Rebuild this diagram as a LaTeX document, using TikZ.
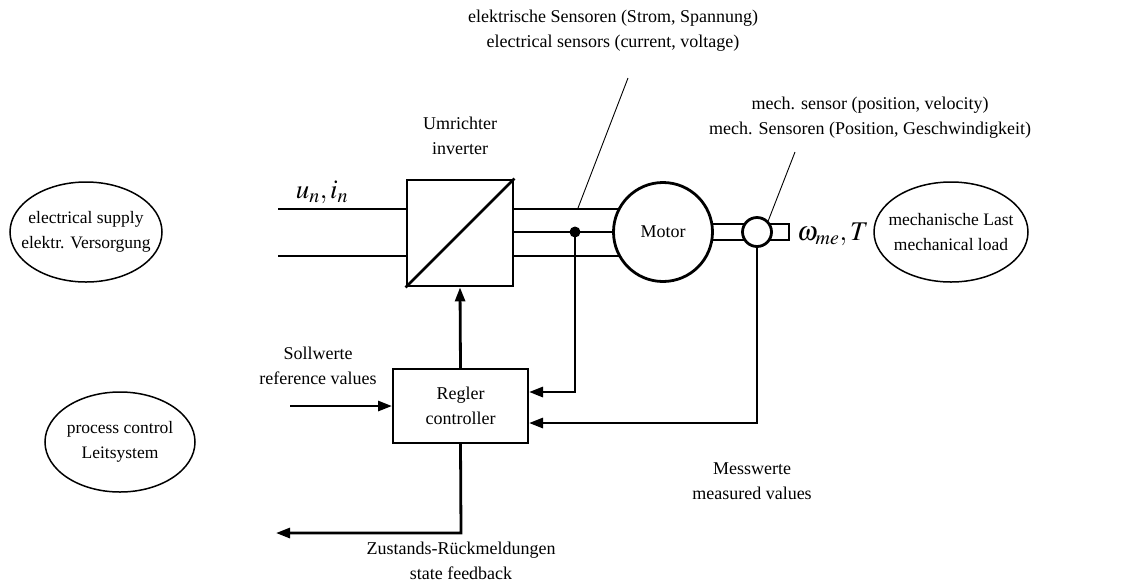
\documentclass[tikz,border=0pt]{standalone}
\usepackage{mathptmx}
\usepackage{fontspec}
\setmainfont{Liberation Serif}
\usetikzlibrary{arrows.meta,shapes.geometric,backgrounds}
\begin{document}
\begin{tikzpicture}[x=1pt,y=-1pt,
  txt/.style={font=\fontsize{18}{25}\selectfont, align=center, inner sep=0pt},
  thick line/.style={line width=2.8pt},
  thin line/.style={line width=0.9pt},
  arr/.style={thick line, -{Triangle[length=14pt,width=10pt]}},
  elltext/.style={font=\fontsize{17.5}{25}\selectfont, align=center, inner sep=0pt},
  ellline/.style={line width=1.5pt},
  bigmath/.style={inner sep=0pt, font=\fontsize{27}{30}\selectfont},
]
\useasboundingbox (0,0) rectangle (1134,582);

% nodes
\node[draw, thick line, minimum width=106pt, minimum height=106pt, inner sep=0pt] (inv) at (460,233) {};
\draw[thick line] (inv.south west) -- (inv.north east);
\node[circle, draw, thick line, fill=white, minimum size=99pt, inner sep=0pt, txt] (motor) at (663,232) {Motor};
\node[circle, draw, thick line, fill=white, minimum size=29pt, inner sep=0pt] (sens) at (757,232) {};
\node[draw, line width=2pt, minimum width=135pt, minimum height=74pt, txt] (ctrl) at (460.5,406) {Regler\\controller};

\node[elltext] (supply) at (86,232) {electrical supply\\elektr. Versorgung};
\draw[ellline] (supply.center) ellipse (76pt and 50pt);
\node[elltext] (load) at (951,232) {mechanische Last\\mechanical load};
\draw[ellline] (load.center) ellipse (77pt and 50pt);
\node[elltext] (proc) at (120,442) {process control\\Leitsystem};
\draw[ellline] (proc.center) ellipse (75pt and 50pt);

\coordinate (dot) at (575,232);
\coordinate (inA) at (278,209);
\coordinate (inB) at (278,256);
\coordinate (refin) at (290,406);
\coordinate (fbend) at (461,533);
\coordinate (fbout) at (276,533);
\coordinate (sensbend) at (757,423);
\coordinate (dotbend) at (575,392);

\begin{pgfonlayer}{background}
  \draw[thick line] (inA) -- (inv.west |- inA);
  \draw[thick line] (inB) -- (inv.west |- inB);
  \draw[thick line] (inv.east |- 0,209) -- (motor.center |- 0,209);
  \draw[thick line] (inv.east |- 0,232) -- (motor.center |- 0,232);
  \draw[thick line] (inv.east |- 0,256) -- (motor.center |- 0,256);
  \draw[thick line] (700,224) rectangle (789,240);
\end{pgfonlayer}

\fill (dot) circle (5.5pt);
\draw[arr] (dot) -- (dotbend) -- (ctrl.east |- dotbend);
\draw[arr] (sens.south) -- (sensbend) -- (ctrl.east |- sensbend);
\draw[arr] (ctrl.north) -- (inv.south);
\draw[arr] (refin) -- (ctrl.west |- refin);
\draw[arr] (ctrl.south) -- (fbend) -- (fbout);

% labels
\node[txt] (lInv) at (460,136) {Umrichter\\inverter};
\node[txt] (lElec) at (613,31) {elektrische Sensoren (Strom, Spannung)\\electrical sensors (current, voltage)};
\node[txt] (lMech) at (870,118) {mech. sensor (position, velocity)\\mech. Sensoren (Position, Geschwindigkeit)};
\node[txt] (lRef) at (318,366) {Sollwerte\\reference values};
\node[txt] (lMeas) at (752,481) {Messwerte\\measured values};
\node[txt] (lFb) at (461,561) {Zustands-R\"uckmeldungen\\state feedback};
\node[bigmath, anchor=base] (lUI) at (322,198) {$u_n,i_n$};
\node[bigmath, anchor=base west] (lOmega) at (797,240) {$\omega_{me},T$};

\coordinate (ptE) at (628,78);
\coordinate (ptM) at (795,152);
\draw[thin line] (578,208) -- (ptE);
\draw[thin line] (sens.north east) -- (ptM);
\end{tikzpicture}
\end{document}
